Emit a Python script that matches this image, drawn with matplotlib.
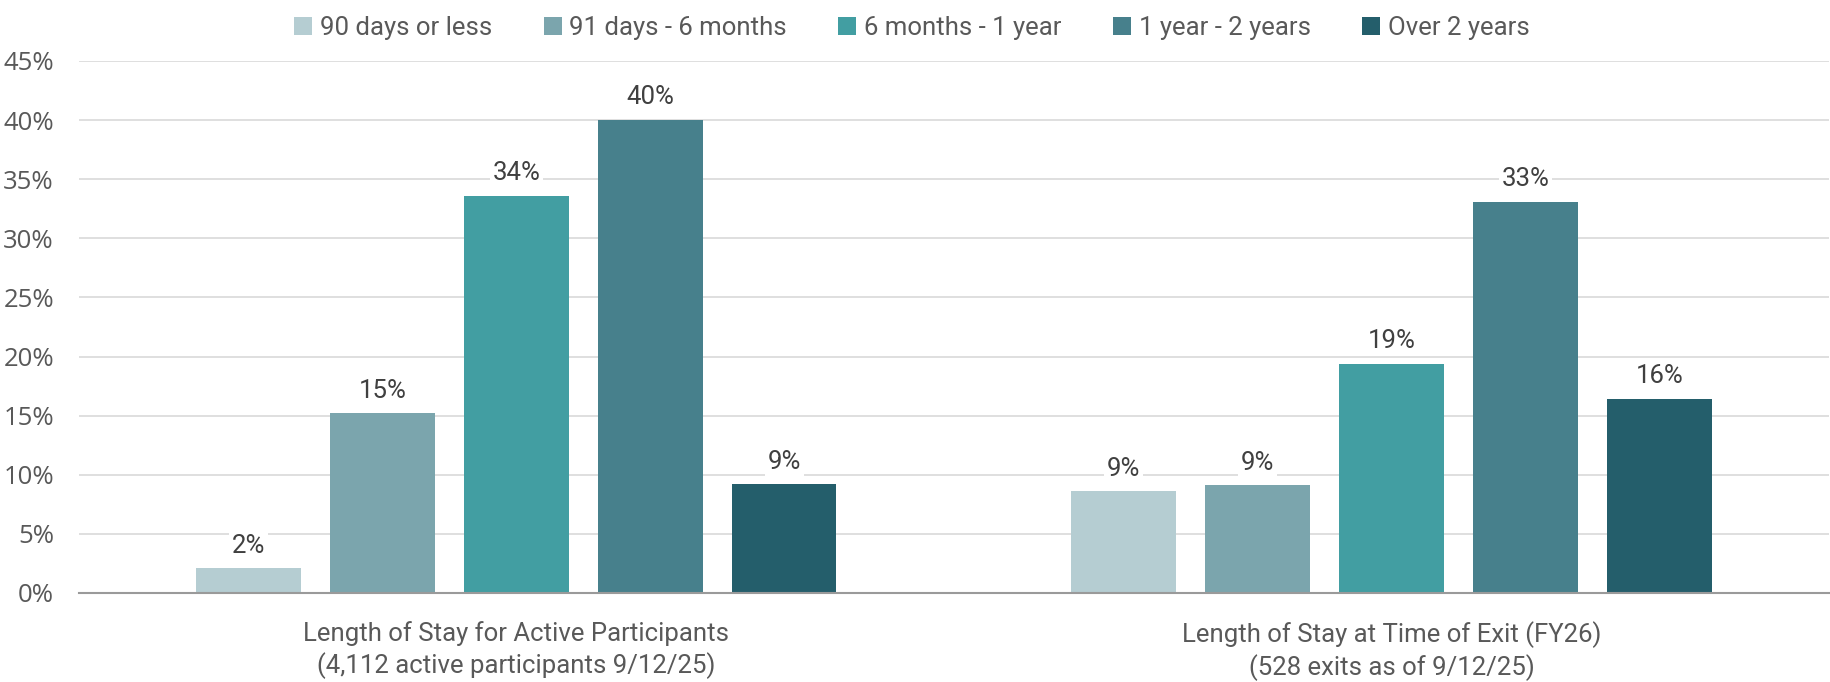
import numpy as np
import matplotlib.pyplot as plt
from matplotlib import font_manager
from matplotlib.ticker import FuncFormatter

# length-of-stay shares (%) for the two populations
groups = ['Length of Stay for Active Participants\n(4,112 active participants 9/12/25)',
          'Length of Stay at Time of Exit (FY26)\n(528 exits as of 9/12/25)']
buckets = ['90 days or less', '91 days - 6 months', '6 months - 1 year',
           '1 year - 2 years', 'Over 2 years']
active = [2.1, 15.2, 33.6, 40.0, 9.2]
exits = [8.6, 9.1, 19.4, 33.1, 16.4]
colors = ['#B5CDD2', '#7BA5AD', '#429EA2', '#47808C', '#245E6B']

names = {f.name for f in font_manager.fontManager.ttflist}
narrow = 'Liberation Sans Narrow' if 'Liberation Sans Narrow' in names else 'Roboto'
plt.rcParams['font.family'] = [narrow, 'DejaVu Sans']

fig = plt.figure(figsize=(18.31, 6.82), dpi=100)
ax = fig.add_axes([0.0431, 0.1305, 0.9558, 0.7801])

x = np.arange(len(groups))
pitch = 0.153
width = 0.1195
data = np.array([active, exits])
for i, (name, col) in enumerate(zip(buckets, colors)):
    vals = data[:, i]
    bars = ax.bar(x + (i - 2) * pitch, vals, width, color=col, label=name, zorder=2)
    for b, v in zip(bars, vals):
        ax.text(b.get_x() + b.get_width() / 2, v + 0.9, f'{v:.0f}%',
                ha='center', va='bottom', fontsize=18.5, color='#404040', zorder=3,
                bbox=dict(facecolor='white', edgecolor='none', pad=2))

ax.set_xlim(-0.5, 1.5)
ax.set_ylim(0, 45)
ax.set_yticks(np.arange(0, 46, 5))
ax.yaxis.set_major_formatter(FuncFormatter(lambda v, p: f'{v:.0f}%'))
ax.grid(axis='y', color='#D9D9D9', linewidth=1.2, zorder=0)
for s in ['top', 'right', 'left']:
    ax.spines[s].set_visible(False)
ax.spines['bottom'].set_color('#9A9A9A')
ax.spines['bottom'].set_linewidth(1.5)
ax.tick_params(length=0)
ax.tick_params(axis='y', pad=18, labelsize=18.5, labelcolor='#595959')
for t in ax.get_yticklabels():
    t.set_family(['Open Sans', 'DejaVu Sans'])
ax.set_xticks(x)
ax.set_xticklabels(groups, fontsize=18.5, color='#595959', linespacing=1.3)
ax.tick_params(axis='x', pad=20)

fig.legend(loc='upper center', bbox_to_anchor=(0.498, 1.01), ncol=5, frameon=False,
           fontsize=18.5, labelcolor='#595959', handlelength=0.7, handleheight=0.7,
           handletextpad=0.3, columnspacing=2.0)

fig.savefig('out.png', dpi=100)
